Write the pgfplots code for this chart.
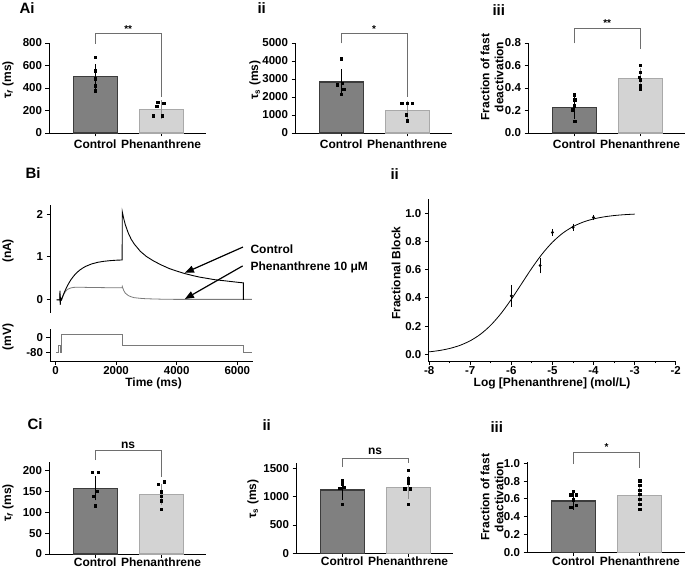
\documentclass[border=0pt]{standalone}
\usepackage{pgfplots}
\pgfplotsset{compat=1.18}
\usetikzlibrary{arrows.meta}
\usepackage{fontspec}
\setmainfont{Liberation Sans}

\definecolor{cc}{HTML}{808080}
\definecolor{ccE}{HTML}{3C3C3C}
\definecolor{pc}{HTML}{D3D3D3}
\definecolor{pcE}{HTML}{A9A9A9}
\definecolor{perr}{HTML}{8E8E8E}
\definecolor{brk}{HTML}{6E6E6E}
\definecolor{tr}{HTML}{7A7A7A}

\newcommand\tl{\fontsize{11.5}{13}\selectfont\bfseries\boldmath}
\newcommand\lb{\fontsize{12}{14}\selectfont\bfseries}
\newcommand\pl{\fontsize{15}{17}\selectfont\bfseries}
\newcommand\st{\fontsize{10}{11}\selectfont\bfseries}

\pgfplotsset{
  base/.style={scale only axis, clip=false,
    axis x line=bottom, axis y line=left,
    axis line style={-, black, line width=0.9pt},
    every outer x axis line/.append style={-},
    every outer y axis line/.append style={-},
    tick style={black, line width=0.9pt}, tick align=outside,
    major tick length=3.5pt, minor tick length=2pt,
    tick label style={font=\tl},
    xticklabel={\textbf{\pgfmathprintnumber{\tick}}},
    yticklabel={\textbf{\pgfmathprintnumber{\tick}}},
    /pgf/number format/assume math mode=true,
    /pgf/number format/1000 sep={}},
  barax/.style={base, width=157pt, height=90pt, xmin=-0.7, xmax=1.68, ymin=0,
    xtick={0,1}, xticklabels={Control,Phenanthrene},
    xticklabel style={font=\lb}},
  cbar/.style={ybar, bar width=44pt, fill=cc, draw=ccE, line width=1.2pt,
    error bars/.cd, y dir=both, y explicit,
    error bar style={line width=1pt, black},
    error mark options={line width=1pt, black, mark size=6.5pt}},
  pbar/.style={ybar, bar width=44pt, fill=pc, draw=pcE, line width=1.2pt,
    error bars/.cd, y dir=both, y explicit,
    error bar style={line width=1pt, perr},
    error mark options={line width=1pt, perr, mark size=6.5pt}},
  dots/.style={only marks, mark=square*, mark size=1.2pt, black},
  dec1/.style={yticklabel style={/pgf/number format/.cd, fixed, fixed zerofill, precision=1}}
}
\tikzset{brk/.style={draw=brk, line width=1pt}}

\begin{document}
\begin{tikzpicture}
\useasboundingbox (0pt,0pt) rectangle (685pt,568pt);

% ---------------- Ai ----------------
\begin{axis}[barax, at={(49pt,435pt)}, ymax=800, ytick={0,200,400,600,800}]
\addplot[cbar] coordinates {(0,500) +- (0,52)};
\addplot[pbar] coordinates {(1,210) +- (0,25)};
\addplot[dots] coordinates {(0,672) (0,554) (0,483) (0,421) (0,376)};
\addplot[dots] coordinates {(0.95,273) (1.04,265) (0.93,237) (0.88,155) (1.02,155)};
\draw[brk] (axis cs:0,795) -- (axis cs:0,886) -- (axis cs:1,886) -- (axis cs:1,323);
\node[font=\st, anchor=base] at (axis cs:0.5,895) {**};
\end{axis}

% ---------------- Aii ----------------
\begin{axis}[barax, at={(295pt,435pt)}, ymax=5000, ytick={0,1000,2000,3000,4000,5000}]
\addplot[cbar] coordinates {(0,2833) +- (0,340)};
\addplot[pbar] coordinates {(1,1240) +- (0,200)};
\addplot[dots] coordinates {(0,4130) (0.02,2780) (-0.06,2685) (0.04,2444) (0,2167)};
\addplot[dots] coordinates {(0.92,1650) (1.0,1650) (1.08,1650) (0.99,1020) (1.0,685)};
\draw[brk] (axis cs:0,4983) -- (axis cs:0,5540) -- (axis cs:1,5540) -- (axis cs:1,2017);
\node[font=\st, anchor=base] at (axis cs:0.5,5600) {*};
\end{axis}

% ---------------- Aiii ----------------
\begin{axis}[barax, dec1, at={(528pt,435pt)}, ymax=0.8, ytick={0,0.2,0.4,0.6,0.8}]
\addplot[cbar] coordinates {(0,0.228) +- (0,0.045)};
\addplot[pbar] coordinates {(1,0.483) +- (0,0.04)};
\addplot[dots] coordinates {(0,0.34) (0.01,0.296) (0,0.243) (-0.02,0.207) (0.01,0.104)};
\addplot[dots] coordinates {(1,0.604) (1,0.542) (0.99,0.495) (1,0.474) (1,0.42) (1,0.39)};
\draw[brk] (axis cs:0,0.797) -- (axis cs:0,0.931) -- (axis cs:1,0.931) -- (axis cs:1,0.744);
\node[font=\st, anchor=base] at (axis cs:0.5,0.945) {**};
\end{axis}

% ---------------- Bi current ----------------
\begin{axis}[base, at={(50pt,255.3pt)}, width=202.5pt, height=107.7pt,
  xmin=-180, xmax=6500, ymin=-0.3, ymax=2.21,
  axis x line=none, ytick={0,1,2}]
\addplot[tr, line width=0.8pt] coordinates {
(40,0) (140,0) (150,0.22) (158,-0.12) (170,0.04) (200,0) (250,0.09) (300,0.16)
(350,0.21) (400,0.245) (500,0.275) (600,0.29) (800,0.295) (1000,0.29) (1500,0.285)
(2000,0.28) (2200,0.28) (2205,0.31) (2250,0.22) (2300,0.16) (2400,0.10) (2500,0.07)
(2600,0.05) (2800,0.035) (3000,0.025) (3500,0.015) (4000,0.01) (5000,0.01)
(6200,0.01) (6480,0.01)};
\addplot[black, line width=0.9pt] coordinates {
(40,0) (140,0) (150,0.2) (158,-0.12) (170,0.05) (200,0) (250,0.099) (300,0.187)
(400,0.337) (500,0.458) (600,0.554) (700,0.631) (800,0.692) (900,0.741) (1000,0.781)
(1200,0.838) (1400,0.875) (1600,0.898) (1800,0.913) (2000,0.923) (2200,0.929)
(2205,2.05) (2250,1.90) (2300,1.76) (2400,1.56) (2500,1.41) (2600,1.30) (2800,1.13)
(3000,1.01) (3250,0.90) (3500,0.81) (3750,0.73) (4000,0.67) (4250,0.615) (4500,0.57)
(4750,0.53) (5000,0.50) (5250,0.47) (5500,0.45) (5750,0.43) (6000,0.41) (6200,0.395)
(6200,0.0)};
\draw[black, line width=1.2pt, -{Triangle[length=9pt,width=7pt]}] (axis cs:6185,1.23) -- (axis cs:4270,0.63);
\draw[black, line width=1.2pt, -{Triangle[length=9pt,width=7pt]}] (axis cs:6175,0.79) -- (axis cs:4270,0.02);
\end{axis}

% ---------------- Bi voltage ----------------
\begin{axis}[base, at={(50pt,207pt)}, width=202.5pt, height=32pt,
  xmin=-180, xmax=6500, ymin=-128, ymax=48.5,
  xtick={0,2000,4000,6000}, ytick={-80,0},
  xticklabel style={inner sep=1.5pt}]
\addplot[tr, line width=0.8pt] coordinates {
(30,-80) (90,-80) (90,-40) (150,-40) (150,-80) (195,-80) (195,20) (2200,20)
(2200,-40) (6200,-40) (6200,-80) (6480,-80)};
\end{axis}

% ---------------- Bii ----------------
\begin{axis}[base, dec1, at={(428.3pt,207pt)}, width=247.4pt, height=162pt,
  xmin=-8.02, xmax=-2, ymin=-0.0475, ymax=1.1,
  xtick={-8,-7,-6,-5,-4,-3,-2}, minor x tick num=1,
  ytick={0,0.2,0.4,0.6,0.8,1.0},
  xticklabel style={inner sep=1.5pt}]
\addplot[black, line width=0.8pt, smooth] coordinates {
(-8,0.0173) (-7.75,0.0268) (-7.5,0.0414) (-7.25,0.0633) (-7,0.0958) (-6.75,0.1423)
(-6.5,0.2064) (-6.25,0.2894) (-6,0.3896) (-5.75,0.5) (-5.5,0.6104) (-5.25,0.7106)
(-5,0.7937) (-4.75,0.8577) (-4.5,0.9042) (-4.25,0.9367) (-4,0.9586) (-3.75,0.9732)
(-3.5,0.9827) (-3.25,0.9889) (-3,0.9929)};
\addplot[only marks, mark=*, mark size=1.3pt, black,
  error bars/.cd, y dir=both, y explicit,
  error bar style={line width=0.7pt, black},
  error mark options={line width=0.7pt, black, mark size=2pt}] coordinates {
(-6,0.414) +- (0,0.064)
(-5.3,0.629) +- (0,0.042)
(-5,0.863) +- (0,0.012)
(-4.5,0.90) +- (0,0.012)
(-4,0.969) +- (0,0.005)};
\end{axis}

% ---------------- Ci ----------------
\begin{axis}[barax, at={(49pt,14pt)}, height=91.6pt, ymax=220, ytick={0,50,100,150,200},
  xticklabel style={yshift=3.5pt}]
\addplot[cbar] coordinates {(0,157.6) +- (0,13)};
\addplot[pbar] coordinates {(1,143) +- (0,10)};
\addplot[dots] coordinates {(-0.045,196) (0.045,196) (0.03,151) (-0.03,139) (0,116)};
\addplot[dots] coordinates {(1.045,173.6) (0.955,168) (1,149.6) (1,139) (1,128) (1,108)};
\draw[brk] (axis cs:0,225.7) -- (axis cs:0,248) -- (axis cs:1,248) -- (axis cs:1,185.6);
\node[font=\lb, anchor=base] at (axis cs:0.5,253) {ns};
\end{axis}

% ---------------- Cii ----------------
\begin{axis}[barax, at={(296pt,14.7pt)}, height=90.7pt, ymax=1600, ytick={0,500,1000,1500},
  xticklabel style={yshift=3.5pt}]
\addplot[cbar] coordinates {(0,1118) +- (0,65)};
\addplot[pbar] coordinates {(1,1165) +- (0,88)};
\addplot[dots] coordinates {(0,1282) (0,1224) (0.03,1165) (-0.04,1147) (0,865)};
\addplot[dots] coordinates {(1,1470) (1,1318) (1,1247) (0.95,1141) (1.035,1141) (1,865)};
\draw[brk] (axis cs:0,1520) -- (axis cs:0,1676) -- (axis cs:1,1676) -- (axis cs:1,1588);
\node[font=\lb, anchor=base] at (axis cs:0.5,1735) {ns};
\end{axis}

% ---------------- Ciii ----------------
\begin{axis}[barax, dec1, at={(527pt,15.7pt)}, width=158pt, height=90.7pt, ymax=1.02,
  ytick={0,0.2,0.4,0.6,0.8,1.0}, xticklabel style={yshift=2.5pt}]
\addplot[cbar] coordinates {(0,0.577) +- (0,0.028)};
\addplot[pbar] coordinates {(1,0.64) +- (0,0.05)};
\addplot[dots] coordinates {(0,0.69) (-0.04,0.65) (0.04,0.65) (0,0.59) (0.04,0.53) (-0.04,0.51)};
\addplot[dots] coordinates {(1,0.805) (1,0.757) (1,0.70) (1,0.652) (1,0.599) (1,0.543) (1,0.487)};
\draw[brk] (axis cs:0,0.992) -- (axis cs:0,1.124) -- (axis cs:1,1.124) -- (axis cs:1,0.944);
\node[font=\st, anchor=base] at (axis cs:0.5,1.14) {*};
\end{axis}

% ---------------- panel letters ----------------
\node[font=\pl, anchor=west] at (16pt,560pt) {Ai};
\node[font=\pl, anchor=west] at (254pt,560pt) {ii};
\node[font=\pl, anchor=west] at (489pt,558pt) {iii};
\node[font=\pl, anchor=west] at (22pt,395pt) {Bi};
\node[font=\pl, anchor=west] at (387pt,394pt) {ii};
\node[font=\pl, anchor=west] at (24pt,144pt) {Ci};
\node[font=\pl, anchor=west] at (259pt,142.5pt) {ii};
\node[font=\pl, anchor=west] at (487pt,141pt) {iii};

% ---------------- axis labels ----------------
\node[font=\lb, rotate=90] at (8pt,488pt) {τ\textsubscript{\textit{f}} (ms)};
\node[font=\lb, rotate=90] at (255pt,488pt) {τ\textsubscript{s} (ms)};
\node[font=\lb, rotate=90, align=center] at (492pt,491pt) {Fraction of fast\\deactivation};
\node[font=\lb, rotate=90] at (8pt,317pt) {(nA)};
\node[font=\lb, rotate=90] at (8pt,231pt) {(mV)};
\node[font=\lb] at (153.6pt,185pt) {Time (ms)};
\node[font=\lb, rotate=90] at (396pt,295pt) {Fractional Block};
\node[font=\lb] at (552pt,185pt) {Log [Phenanthrene] (mol/L)};
\node[font=\lb, rotate=90] at (8pt,65pt) {τ\textsubscript{\textit{f}} (ms)};
\node[font=\lb, rotate=90] at (253pt,69pt) {τ\textsubscript{s} (ms)};
\node[font=\lb, rotate=90, align=center] at (492pt,71pt) {Fraction of fast\\deactivation};

% ---------------- trace annotations ----------------
\node[font=\lb, anchor=west] at (247pt,319pt) {Control};
\node[font=\lb, anchor=west] at (247pt,301pt) {Phenanthrene 10 μM};
\end{tikzpicture}
\end{document}
